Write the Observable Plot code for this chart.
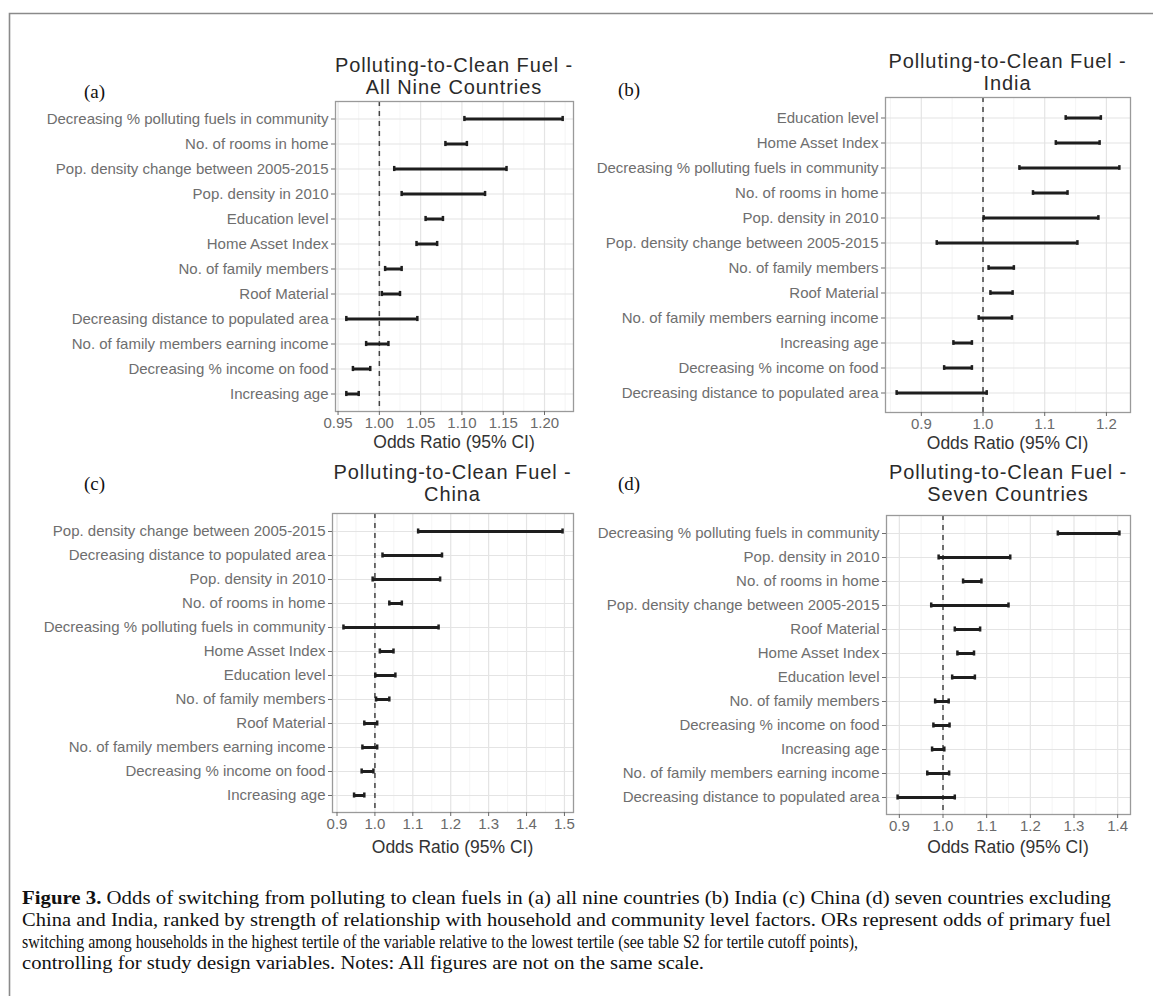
<!DOCTYPE html>
<html>
<head>
<meta charset="utf-8">
<script src="https://cdn.jsdelivr.net/npm/d3@7"></script>
<script src="https://cdn.jsdelivr.net/npm/@observablehq/plot@0.6"></script>
<style>
  html, body { margin: 0; padding: 0; background: #fff; }
  #fig { position: relative; width: 1153px; height: 996px; background: #fff; overflow: hidden; }
  .abs { position: absolute; }
  .ttl { position: absolute; font-family: "Liberation Sans", Arial, Helvetica, sans-serif; font-size: 20px; letter-spacing: 0.9px; line-height: 21.5px; color: #2a2a2a; text-align: center; white-space: nowrap; }
  .axt { position: absolute; font-family: "Liberation Sans", Arial, Helvetica, sans-serif; font-size: 17.5px; line-height: 20px; color: #333; text-align: center; white-space: nowrap; }
  .lab { position: absolute; font-family: "Liberation Serif", "Times New Roman", serif; font-size: 19px; line-height: 20px; color: #111; }
</style>
</head>
<body>
<div id="fig"></div>
<script>
// ---------- data ----------
const titlesA = ["Polluting-to-Clean Fuel -", "All Nine Countries"];
const labelsA = ["Decreasing % polluting fuels in community", "No. of rooms in home", "Pop. density change between 2005-2015", "Pop. density in 2010", "Education level", "Home Asset Index", "No. of family members", "Roof Material", "Decreasing distance to populated area", "No. of family members earning income", "Decreasing % income on food", "Increasing age"];
const lowA  = [1.103, 1.080, 1.018, 1.027, 1.056, 1.045, 1.007, 1.003, 0.960, 0.984, 0.968, 0.960];
const highA = [1.222, 1.106, 1.154, 1.128, 1.077, 1.070, 1.027, 1.025, 1.046, 1.011, 0.989, 0.975];
const ticksA = [0.95, 1.00, 1.05, 1.10, 1.15, 1.20];
const minorA = [0.975, 1.025, 1.075, 1.125, 1.175, 1.225];

const titlesB = ["Polluting-to-Clean Fuel -", "India"];
const labelsB = ["Education level", "Home Asset Index", "Decreasing % polluting fuels in community", "No. of rooms in home", "Pop. density in 2010", "Pop. density change between 2005-2015", "No. of family members", "Roof Material", "No. of family members earning income", "Increasing age", "Decreasing % income on food", "Decreasing distance to populated area"];
const lowB  = [1.134, 1.118, 1.059, 1.081, 1.001, 0.925, 1.009, 1.012, 0.993, 0.952, 0.937, 0.860];
const highB = [1.191, 1.189, 1.221, 1.137, 1.187, 1.153, 1.050, 1.048, 1.047, 0.982, 0.982, 1.006];
const ticksB = [0.9, 1.0, 1.1, 1.2];
const minorB = [0.85, 0.95, 1.05, 1.15];

const titlesC = ["Polluting-to-Clean Fuel -", "China"];
const labelsC = ["Pop. density change between 2005-2015", "Decreasing distance to populated area", "Pop. density in 2010", "No. of rooms in home", "Decreasing % polluting fuels in community", "Home Asset Index", "Education level", "No. of family members", "Roof Material", "No. of family members earning income", "Decreasing % income on food", "Increasing age"];
const lowC  = [1.114, 1.020, 0.994, 1.038, 0.917, 1.013, 1.001, 1.003, 0.972, 0.967, 0.965, 0.945];
const highC = [1.495, 1.177, 1.172, 1.071, 1.168, 1.049, 1.054, 1.038, 1.006, 1.006, 0.996, 0.972];
const ticksC = [0.9, 1.0, 1.1, 1.2, 1.3, 1.4, 1.5];
const minorC = [0.95, 1.05, 1.15, 1.25, 1.35, 1.45];

const titlesD = ["Polluting-to-Clean Fuel -", "Seven Countries"];
const labelsD = ["Decreasing % polluting fuels in community", "Pop. density in 2010", "No. of rooms in home", "Pop. density change between 2005-2015", "Roof Material", "Home Asset Index", "Education level", "No. of family members", "Decreasing % income on food", "Increasing age", "No. of family members earning income", "Decreasing distance to populated area"];
const lowD  = [1.263, 0.990, 1.046, 0.973, 1.027, 1.033, 1.021, 0.982, 0.978, 0.975, 0.964, 0.896];
const highD = [1.404, 1.154, 1.088, 1.150, 1.085, 1.071, 1.073, 1.013, 1.015, 1.003, 1.014, 1.027];
const ticksD = [0.9, 1.0, 1.1, 1.2, 1.3, 1.4];
const minorD = [0.95, 1.05, 1.15, 1.25, 1.35];

const panelLetters = ["(a)", "(b)", "(c)", "(d)"];
const axisTitle = "Odds Ratio (95% CI)";
const captionLines = [
  ["Figure 3.", " Odds of switching from polluting to clean fuels in (a) all nine countries (b) India (c) China (d) seven countries excluding"],
  ["", "China and India, ranked by strength of relationship with household and community level factors. ORs represent odds of primary fuel"],
  ["", "switching among households in the highest tertile of the variable relative to the lowest tertile (see table S2 for tertile cutoff points),"],
  ["", "controlling for study design variables. Notes: All figures are not on the same scale."]
];

// ---------- layout ----------
const fig = document.getElementById("fig");
const FONT = "'Liberation Sans', Arial, Helvetica, sans-serif";

function panel(cfg) {
  const data = cfg.labels.map((c, i) => ({c, lo: cfg.low[i], hi: cfg.high[i]}));
  const lo = d3.min(cfg.low), hi = d3.max(cfg.high), pad = (hi - lo) * 0.05;
  const mt = 2, mb = 40;
  const cap = cfg.ph / 12 / 2 - 3;
  const chart = Plot.plot({
    width: cfg.width,
    height: mt + cfg.ph + mb,
    marginTop: mt,
    marginBottom: mb,
    marginLeft: cfg.ml,
    marginRight: cfg.mr,
    style: {fontFamily: FONT, background: "transparent", overflow: "visible"},
    x: {domain: [lo - pad, hi + pad]},
    y: {type: "band", domain: cfg.labels, paddingInner: 0, paddingOuter: 0.1},
    marks: [
      Plot.gridX(cfg.minor, {stroke: "#f1f1f1", strokeOpacity: 1, strokeWidth: 0.7}),
      Plot.gridX(cfg.ticks, {stroke: "#e4e4e4", strokeOpacity: 1, strokeWidth: 1.2}),
      Plot.gridY({stroke: "#e4e4e4", strokeOpacity: 1, strokeWidth: 1.2}),
      Plot.ruleX([1], {stroke: "#444", strokeWidth: 1.5, strokeDasharray: "5,5"}),
      Plot.ruleY(data, {y: "c", x1: "lo", x2: "hi", stroke: "#1e1e1e", strokeWidth: 3}),
      Plot.tickX(data, {y: "c", x: "lo", stroke: "#1e1e1e", strokeWidth: 2.5, insetTop: cap, insetBottom: cap}),
      Plot.tickX(data, {y: "c", x: "hi", stroke: "#1e1e1e", strokeWidth: 2.5, insetTop: cap, insetBottom: cap}),
      Plot.frame({stroke: "#9a9a9a", strokeWidth: 1.3}),
      Plot.axisX(cfg.ticks, {tickFormat: cfg.fmt, fontSize: 15, tickSize: 4, tickPadding: 2, color: "#6a6a6a", label: null}),
      Plot.axisY({fontSize: 15, tickSize: 4, tickPadding: 3, color: "#6e6e6e", label: null})
    ]
  });
  chart.classList.add("abs");
  chart.style.left = cfg.left + "px";
  chart.style.top = (cfg.pt - mt) + "px";
  fig.appendChild(chart);

  const pl = cfg.left + cfg.ml, pw = cfg.width - cfg.ml - cfg.mr;
  const t = document.createElement("div");
  t.className = "ttl";
  t.style.left = (pl - 20) + "px";
  t.style.width = (pw + 40) + "px";
  t.style.top = (cfg.t1 - 10.75) + "px";
  t.innerHTML = cfg.titles.join("<br>");
  fig.appendChild(t);

  const a = document.createElement("div");
  a.className = "axt";
  a.style.left = pl + "px";
  a.style.width = pw + "px";
  a.style.top = (cfg.ax - 10) + "px";
  a.textContent = axisTitle;
  fig.appendChild(a);

  const l = document.createElement("div");
  l.className = "lab";
  l.style.left = cfg.lx + "px";
  l.style.top = (cfg.ly - 10) + "px";
  l.textContent = cfg.letter;
  fig.appendChild(l);
}

const f2 = d => d.toFixed(2), f1 = d => d.toFixed(1);

panel({labels: labelsA, low: lowA, high: highA, ticks: ticksA, minor: minorA, fmt: f2, titles: titlesA, letter: panelLetters[0],
  left: 0, width: 580, ml: 335, mr: 7, pt: 101, ph: 310, t1: 66, ax: 442, lx: 84, ly: 92});
panel({labels: labelsB, low: lowB, high: highB, ticks: ticksB, minor: minorB, fmt: f1, titles: titlesB, letter: panelLetters[1],
  left: 580, width: 573, ml: 305, mr: 23, pt: 97, ph: 315, t1: 62, ax: 443, lx: 618, ly: 90});
panel({labels: labelsC, low: lowC, high: highC, ticks: ticksC, minor: minorC, fmt: f1, titles: titlesC, letter: panelLetters[2],
  left: 0, width: 580, ml: 332, mr: 7, pt: 513, ph: 299, t1: 473, ax: 847, lx: 84, ly: 484});
panel({labels: labelsD, low: lowD, high: highD, ticks: ticksD, minor: minorD, fmt: f1, titles: titlesD, letter: panelLetters[3],
  left: 580, width: 573, ml: 306, mr: 23, pt: 515, ph: 299, t1: 473, ax: 847, lx: 618, ly: 484});

// ---------- frame and caption ----------
const ns = "http://www.w3.org/2000/svg";
const svg = document.createElementNS(ns, "svg");
svg.setAttribute("width", 1153);
svg.setAttribute("height", 996);
svg.setAttribute("class", "abs");
svg.style.left = "0px"; svg.style.top = "0px"; svg.style.pointerEvents = "none";
const border = document.createElementNS(ns, "path");
border.setAttribute("d", "M9.5,996 L9.5,13.5 L1153,13.5");
border.setAttribute("fill", "none");
border.setAttribute("stroke", "#8a8a8a");
border.setAttribute("stroke-width", "1.6");
svg.appendChild(border);
const capY = [904, 926, 948, 969];
const capW = [1089, 1089, 836, 682];
captionLines.forEach((ln, i) => {
  const tx = document.createElementNS(ns, "text");
  tx.setAttribute("x", 22);
  tx.setAttribute("y", capY[i]);
  tx.setAttribute("textLength", capW[i]);
  tx.setAttribute("lengthAdjust", "spacingAndGlyphs");
  tx.setAttribute("font-family", "'Liberation Serif', 'Times New Roman', serif");
  tx.setAttribute("font-size", "18");
  tx.setAttribute("fill", "#111");
  if (ln[0]) {
    const b = document.createElementNS(ns, "tspan");
    b.setAttribute("font-weight", "bold");
    b.textContent = ln[0];
    tx.appendChild(b);
  }
  const r = document.createElementNS(ns, "tspan");
  r.textContent = ln[1];
  tx.appendChild(r);
  svg.appendChild(tx);
});
fig.appendChild(svg);
</script>
</body>
</html>
